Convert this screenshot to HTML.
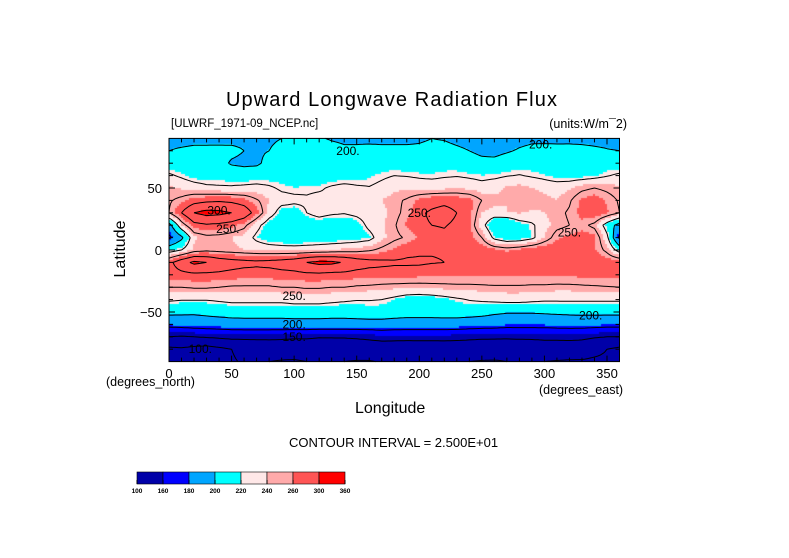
<!DOCTYPE html>
<html><head><meta charset="utf-8">
<style>
body{margin:0;background:#fff;width:789px;height:558px;overflow:hidden;position:relative;font-family:"Liberation Sans",sans-serif}
.t{position:absolute;white-space:nowrap;color:#000}
</style></head><body>
<div class="t" style="left:226px;top:89px;font-size:20px;letter-spacing:1.1px">Upward Longwave Radiation Flux</div>
<div class="t" style="left:171px;top:118px;font-size:11.5px">[ULWRF_1971-09_NCEP.nc]</div>
<div class="t" style="right:162px;top:117px;font-size:12.5px">(units:W/m¯2)</div>
<canvas id="cv" width="451" height="224" style="position:absolute;left:169px;top:138px"></canvas>
<svg id="sv" width="789" height="558" style="position:absolute;left:0;top:0"></svg>
<div class="t" style="left:106px;top:375px;font-size:12.5px">(degrees_north)</div>
<div class="t" style="left:539px;top:383px;font-size:12.5px">(degrees_east)</div>
<div class="t" style="left:355px;top:400px;font-size:16px">Longitude</div>
<div class="t" style="left:84px;top:240px;font-size:16px;transform:rotate(-90deg);width:74px;text-align:center">Latitude</div>
<div class="t" style="left:289px;top:435px;font-size:13px">CONTOUR INTERVAL = 2.500E+01</div>
<script>
const lons=[];for(let i=0;i<36;i++)lons.push(i*10);
const lats=[90,80,70,60,50,40,30,20,10,0,-10,-20,-30,-40,-50,-60,-70,-80,-90];
const rows=[
"195,195,195,194,193,195,196,197,198,200,202,203,201,199,198,196,195,194,195,196,198,200,199,196,194,190,188,190,194,196,195,195,196,196,195,195",
"200,202,204,205,206,204,200,198,200,204,207,208,206,204,202,204,206,206,205,204,203,204,205,203,200,196,194,198,202,205,207,206,205,204,203,201",
"212,210,210,208,206,198,196,197,205,210,212,212,210,208,209,210,212,213,212,211,210,212,214,213,208,205,206,210,213,214,215,214,213,212,212,212",
"228,222,215,212,214,212,210,211,213,215,214,212,210,211,212,214,218,222,225,224,222,221,223,224,222,220,221,224,226,223,220,216,214,215,218,224",
"242,238,234,230,228,228,230,232,228,222,220,221,222,228,232,228,226,230,236,238,236,235,236,238,236,232,236,242,244,240,236,234,238,246,250,246",
"248,255,266,270,272,270,264,252,240,232,230,228,232,228,230,234,238,240,246,252,262,268,270,268,264,250,244,240,244,248,244,240,248,262,268,258",
"250,275,300,308,306,300,290,265,235,215,212,225,232,228,226,230,234,236,245,255,272,278,282,275,265,240,236,240,242,238,240,246,252,266,272,262",
"190,240,268,272,270,265,255,232,212,208,206,210,212,208,210,214,230,238,248,262,272,275,276,272,262,232,205,200,215,222,235,245,250,255,245,215",
"170,195,238,245,244,240,236,220,210,206,205,207,208,210,212,214,218,236,246,252,262,270,272,272,266,250,220,210,212,220,240,258,262,266,264,230",
"215,225,242,246,244,242,240,238,237,236,235,236,238,240,242,244,248,254,262,270,272,274,274,272,270,268,262,258,262,268,270,268,266,264,262,245",
"268,290,305,300,290,285,282,280,282,285,290,300,306,305,298,288,282,280,278,278,278,276,275,274,274,273,272,272,271,270,270,270,270,270,270,268",
"266,268,270,270,270,268,266,266,266,268,268,270,270,268,268,266,266,266,266,266,264,264,263,263,263,262,262,262,262,262,262,262,263,264,264,265",
"250,250,252,252,250,248,248,248,248,250,250,252,252,250,250,248,247,245,244,243,243,244,245,246,246,247,248,248,248,247,247,246,246,247,248,249",
"228,226,226,226,228,230,230,230,230,230,232,232,232,230,228,226,226,225,220,214,212,214,218,222,226,228,230,232,232,230,228,228,228,228,228,228",
"206,205,204,206,208,210,210,210,210,210,212,212,212,210,210,212,214,214,212,210,210,210,211,211,210,208,204,202,202,202,203,204,205,206,206,206",
"182,184,186,187,188,189,190,190,190,190,190,190,190,190,190,190,190,190,188,188,188,188,188,188,186,185,184,182,182,182,182,183,184,184,183,182",
"150,148,150,152,154,156,156,156,156,155,154,154,152,152,152,153,155,158,158,157,157,157,157,156,155,154,154,154,155,155,156,156,156,155,152,150",
"120,122,118,115,120,125,128,130,132,132,130,130,128,130,132,134,135,135,134,134,135,135,136,136,135,134,132,130,130,132,134,135,136,135,130,125",
"122,124,124,123,122,124,126,126,125,124,124,125,126,126,125,124,124,126,127,126,125,125,126,126,125,124,124,125,126,126,125,124,123,123,122,122"];
const grid=rows.map(r=>r.split(',').map(Number));
const levels=[100,160,180,200,220,240,260,300,360];
const colors=['#0000a8','#0000ff','#00a5ff','#00ffff','#ffe8e8','#ffaaaa','#ff5555','#ff0000'];
const cLevels=[100,125,150,175,200,225,250,275,300];
const X0=169,X1=619.5,Y0=138.4,Y1=361.6;
const xs=lon=>X0+(lon/360)*(X1-X0);
const ys=lat=>Y0+((90-lat)/180)*(Y1-Y0);
function val(lon,lat){
  let fi=((lon%360)+360)%360/10, fj=(90-lat)/10;
  fj=Math.max(0,Math.min(18,fj));
  const i0=Math.floor(fi)%36,i1=(i0+1)%36,tx=fi-Math.floor(fi);
  const j0=Math.min(17,Math.floor(fj)),ty=fj-j0;
  const a=grid[j0][i0],b=grid[j0][i1],c=grid[j0+1][i0],d=grid[j0+1][i1];
  return (a*(1-tx)+b*tx)*(1-ty)+(c*(1-tx)+d*tx)*ty;
}
function col(v){for(let k=levels.length-2;k>=0;k--)if(v>=levels[k])return colors[k];return colors[0];}
const cv=document.getElementById('cv'),ctx=cv.getContext('2d');
for(let py=0;py<224;py+=2)for(let px=0;px<451;px+=2){
  const lon=(px+1)/(X1-X0)*360,lat=90-(py+1)/(Y1-Y0)*180;
  ctx.fillStyle=col(val(lon,lat));ctx.fillRect(px,py,2,2);
}
const NS='http://www.w3.org/2000/svg',sv=document.getElementById('sv');
function mk(t,a){const e=document.createElementNS(NS,t);for(const k in a)e.setAttribute(k,a[k]);sv.appendChild(e);return e;}
const st=2.5,nx=145,ny=73,F=[];
for(let j=0;j<ny;j++){F.push([]);for(let i=0;i<nx;i++)F[j].push(val(i*st,90-j*st));}
cLevels.forEach(L=>{
  let d='';
  for(let j=0;j<ny-1;j++){for(let i=0;i<nx-1;i++){
    const v=[F[j][i],F[j][i+1],F[j+1][i+1],F[j+1][i]];
    const p=[[i,j],[i+1,j],[i+1,j+1],[i,j+1]];
    const pts=[];
    for(let e=0;e<4;e++){const a=v[e],b=v[(e+1)%4];
      if((a<L)!==(b<L)){const t=(L-a)/(b-a);const q=p[e],r=p[(e+1)%4];
        pts.push([xs((q[0]+(r[0]-q[0])*t)*st),ys(90-(q[1]+(r[1]-q[1])*t)*st)]);}}
    for(let k=0;k+1<pts.length;k+=2)d+='M'+pts[k][0].toFixed(1)+' '+pts[k][1].toFixed(1)+'L'+pts[k+1][0].toFixed(1)+' '+pts[k+1][1].toFixed(1);
  }}
  const pth=mk('path',{d:d,stroke:'#000','stroke-width':1,fill:'none'});
  
  
});
const clabels=[["200.",143,80],["200.",297,85],["300.",40,32],["250.",47,17],["250.",200,30],["250.",320,14],["250.",100,-37],["200.",100,-60],["150.",100,-70],["100.",25,-80],["200.",337,-53]];
clabels.forEach(c=>{const t=mk('text',{x:xs(c[1]),y:ys(c[2])+4,'font-size':12,'font-family':'Liberation Sans, sans-serif','text-anchor':'middle'});t.textContent=c[0];
  });
const fr=mk('rect',{x:X0,y:Y0,width:X1-X0,height:Y1-Y0,fill:'none',stroke:'#000','stroke-width':1});

for(let lon=10;lon<360;lon+=10){const x=xs(lon);const L=lon%50===0?6:4;
  mk('line',{x1:x,x2:x,y1:Y1,y2:Y1-L,stroke:'#000'});mk('line',{x1:x,x2:x,y1:Y0,y2:Y0+L,stroke:'#000'});}
for(let lat=-80;lat<90;lat+=10){const y=ys(lat);const L=lat%50===0?6:4;
  mk('line',{x1:X0,x2:X0+L,y1:y,y2:y,stroke:'#000'});mk('line',{x1:X1,x2:X1-L,y1:y,y2:y,stroke:'#000'});}
const xTicks=[0,50,100,150,200,250,300,350];
xTicks.forEach(v=>{const t=mk('text',{x:xs(v),y:378,'font-size':13,'font-family':'Liberation Sans, sans-serif','text-anchor':'middle'});t.textContent=v;
  });
const yTicks=[50,0,-50];
yTicks.forEach(v=>{const t=mk('text',{x:162,y:ys(v)+5,'font-size':13,'font-family':'Liberation Sans, sans-serif','text-anchor':'end'});t.textContent=v===-50?'\u221250':v;
  });
const cbX0=137,cbX1=345,cbY=472,cbH=12,n=colors.length,w=(cbX1-cbX0)/n;
colors.forEach((c,k)=>{const r=mk('rect',{x:cbX0+k*w,y:cbY,width:w,height:cbH,fill:c,stroke:'#000','stroke-width':0.6});
  });
levels.forEach((l,k)=>{mk('line',{x1:cbX0+k*w,x2:cbX0+k*w,y1:cbY+cbH-4,y2:cbY+cbH,stroke:'#000'});
  const t=mk('text',{x:cbX0+k*w,y:493,'font-size':6.5,'font-weight':'bold','font-family':'Liberation Sans, sans-serif','text-anchor':'middle'});t.textContent=l;
  });
</script>
</body></html>
